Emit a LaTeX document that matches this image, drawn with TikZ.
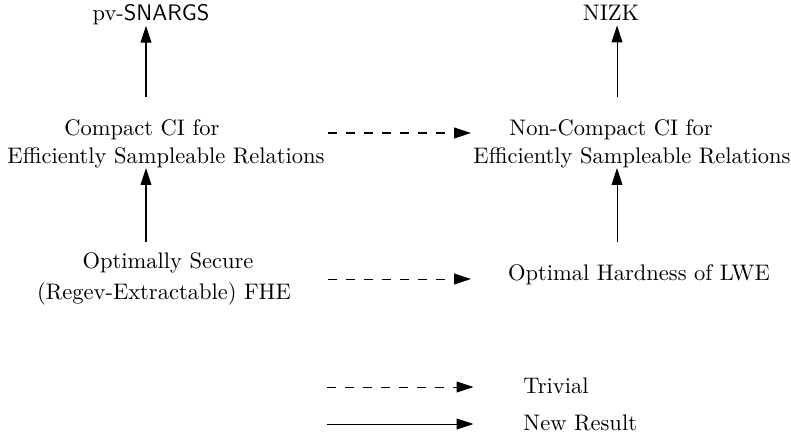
\documentclass[tikz,border=0pt]{standalone}
\usetikzlibrary{arrows.meta,calc}
\tikzset{
  lbl/.style={inner sep=0pt,anchor=base},
  newres/.style={line width=0.45pt,-{Triangle[length=7.5pt,width=4.8pt]}},
  trivarrow/.style={line width=0.45pt,dash pattern=on 4.2pt off 3.8pt,-{Triangle[length=7.5pt,width=4.8pt]}},
}
\begin{document}
\begin{tikzpicture}[x=0.4444pt,y=-0.4444pt]
\useasboundingbox (0,0) rectangle (791,435);
% nodes
\node[lbl] (pv) at (151,20) {pv-\textsf{SNARGS}};
\node[lbl] (nizk) at (611,20) {NIZK};
\node[lbl] (cci1) at (142,135) {Compact CI for};
\node[lbl] (cci2) at (166,163) {Efficiently Sampleable Relations};
\node[lbl] (ncci1) at (611,135) {Non-Compact CI for};
\node[lbl] (ncci2) at (632,163) {Efficiently Sampleable Relations};
\node[lbl] (opt1) at (168,268) {Optimally Secure};
\node[lbl] (opt2) at (164,299) {(Regev-Extractable) FHE};
\node[lbl] (hard) at (639,280) {Optimal Hardness of LWE};
\node[lbl,anchor=base west] (triv) at (523,393) {Trivial};
\node[lbl,anchor=base west] (newr) at (523,430) {New Result};
% helper coordinates
\coordinate (xl) at (146,0);
\coordinate (xr) at (617,0);
\coordinate (ym1) at (0,133);
\coordinate (ym2) at (0,279);
\coordinate (leg1) at (327,387);
\coordinate (leg2) at (327,424);
% vertical arrows
\draw[newres,shorten <=9.5pt,shorten >=0.4pt] (xl |- cci1.north) -- (xl |- pv.south);
\draw[newres,shorten <=9.5pt,shorten >=2.2pt] (xr |- ncci1.north) -- (xr |- nizk.south);
\draw[newres,shorten <=4.2pt] (xl |- opt1.north) -- (xl |- cci2.south);
\draw[newres,shorten <=9.5pt] (xr |- hard.north) -- (xr |- ncci2.south);
% horizontal dashed arrows
\draw[trivarrow,shorten <=1.3pt,shorten >=0.9pt] (cci2.east |- ym1) -- (ncci2.west |- ym1);
\draw[trivarrow,shorten <=1.3pt,shorten >=0.9pt] (cci2.east |- ym2) -- (ncci2.west |- ym2);
% legend
\draw[trivarrow,shorten >=22pt] (leg1) -- (leg1 -| triv.west);
\draw[newres,shorten >=22pt] (leg2) -- (leg2 -| newr.west);
\end{tikzpicture}
\end{document}
